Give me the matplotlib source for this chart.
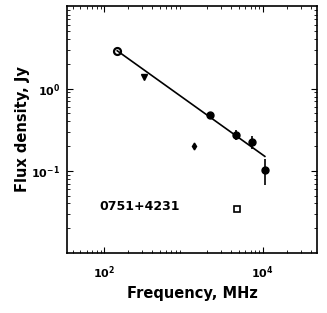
import numpy as np
import matplotlib.pyplot as plt

# flux density measurements for 0751+4231
freq_circ = [2150, 4570, 7280, 10600]
flux_circ = [0.48, 0.275, 0.226, 0.103]
err_circ = [0.0, 0.035, 0.04, 0.035]

freq_open = [146]
flux_open = [2.9]

freq_tri = [318]
flux_tri = [1.40]

freq_diam = [1350]
flux_diam = [0.20]

freq_sq = [4700]
flux_sq = [0.0344]

# power-law fit endpoints
fit_freq = [146, 10600]
fit_flux = [2.9, 0.15]

xticks = [1e2, 1e4]
xticklabels = ['$\\mathbf{10^2}$', '$\\mathbf{10^4}$']
yticks = [1e-1, 1e0]
yticklabels = ['$\\mathbf{10^{-1}}$', '$\\mathbf{10^{0}}$']

fig = plt.figure(figsize=(3.27, 3.13), dpi=100)
ax = fig.add_axes([0.205, 0.192, 0.764, 0.789])

ax.plot(fit_freq, fit_flux, color='black', lw=1.2)
ax.errorbar(freq_circ, flux_circ, yerr=err_circ, fmt='o', color='black',
            ms=5, elinewidth=1.2, capsize=0)
ax.plot(freq_open, flux_open, 'o', mfc='none', mec='black', mew=1.6, ms=5)
ax.plot(freq_tri, flux_tri, 'v', color='black', ms=4)
ax.plot(freq_diam, flux_diam, 'd', color='black', ms=3.5)
ax.plot(freq_sq, flux_sq, 's', mfc='none', mec='black', mew=1.2, ms=4)

ax.set_xscale('log')
ax.set_yscale('log')
ax.set_xlim(34, 48000)
ax.set_ylim(0.01, 10.2)
ax.set_xticks(xticks)
ax.set_xticklabels(xticklabels)
ax.set_yticks(yticks)
ax.set_yticklabels(yticklabels)
ax.tick_params(which='both', direction='in', top=True, right=True)
ax.tick_params(which='major', length=4, labelsize=8)
ax.tick_params(axis='x', which='major', pad=8)
ax.tick_params(axis='y', which='major', pad=5)
ax.tick_params(which='minor', length=2)
for s in ax.spines.values():
    s.set_linewidth(1.2)

ax.text(0.13, 0.175, '0751+4231', transform=ax.transAxes, fontsize=9,
        fontweight='bold')
ax.set_xlabel('Frequency, MHz', fontsize=10.5, fontweight='bold')
ax.set_ylabel('Flux density, Jy', fontsize=10.5, fontweight='bold')
ax.yaxis.set_label_coords(-0.15, 0.5)

fig.savefig('out.png', dpi=100)
